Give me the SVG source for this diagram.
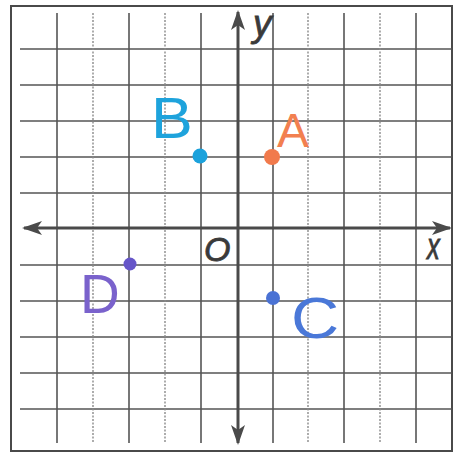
<svg xmlns="http://www.w3.org/2000/svg" width="464" height="453" viewBox="0 0 464 453">
<defs>
<style>
.grid{stroke:#555555;stroke-width:1.6;fill:none}
.dot{stroke:#8a8a8a;stroke-width:1.4;stroke-dasharray:2 1.5;fill:none}
.axis{stroke:#4a4a4a;stroke-width:3;fill:none}
.lbl{font-family:"Liberation Sans",Arial,sans-serif;font-style:italic;fill:#3a3a3a;stroke:#3a3a3a;stroke-width:0.8}
.hand{font-family:"Liberation Sans",Arial,sans-serif}
</style>
<marker id="ah" viewBox="0 0 20 14" refX="18" refY="7" markerWidth="20" markerHeight="14" markerUnits="userSpaceOnUse" orient="auto">
<path d="M0,0 L20,7 L0,14 L5,7 Z" fill="#4a4a4a"/>
</marker>
</defs>
<rect width="464" height="453" fill="#ffffff"/>
<g id="frame">
<rect x="11" y="6" width="441" height="445" fill="none" stroke="#4a4a4a" stroke-width="2"/>
</g>
<g id="grid">
<line class="grid" x1="20" y1="49" x2="452" y2="49"/>
<line class="grid" x1="20" y1="85" x2="452" y2="85"/>
<line class="grid" x1="20" y1="121" x2="452" y2="121"/>
<line class="grid" x1="20" y1="157" x2="452" y2="157"/>
<line class="grid" x1="20" y1="193" x2="452" y2="193"/>
<line class="grid" x1="20" y1="265" x2="452" y2="265"/>
<line class="grid" x1="20" y1="301" x2="452" y2="301"/>
<line class="grid" x1="20" y1="337" x2="452" y2="337"/>
<line class="grid" x1="20" y1="373" x2="452" y2="373"/>
<line class="grid" x1="20" y1="409" x2="452" y2="409"/>
<line class="grid" x1="57" y1="13" x2="57" y2="443"/>
<line class="dot" x1="93" y1="13" x2="93" y2="443"/>
<line class="grid" x1="129" y1="13" x2="129" y2="443"/>
<line class="dot" x1="165" y1="13" x2="165" y2="443"/>
<line class="grid" x1="201" y1="13" x2="201" y2="443"/>
<line class="grid" x1="273" y1="13" x2="273" y2="443"/>
<line class="dot" x1="308" y1="13" x2="308" y2="443"/>
<line class="grid" x1="344" y1="13" x2="344" y2="443"/>
<line class="dot" x1="380" y1="13" x2="380" y2="443"/>
<line class="grid" x1="416" y1="13" x2="416" y2="443"/>
</g>
<g id="connectors">
<line class="axis" x1="238" y1="228" x2="450" y2="228" marker-end="url(#ah)"/>
<line class="axis" x1="238" y1="228" x2="24" y2="228" marker-end="url(#ah)"/>
<line class="axis" x1="238" y1="228" x2="238" y2="12" marker-end="url(#ah)"/>
<line class="axis" x1="238" y1="228" x2="238" y2="443" marker-end="url(#ah)"/>
</g>
<g id="labels">
<text class="lbl" x="253" y="36" font-size="37">y</text>
<text class="lbl" x="0" y="0" font-size="34" transform="translate(427,259) scale(0.75,1.1)">x</text>
<text class="lbl" x="204" y="261" font-size="34">O</text>
</g>
<g id="pointA">
<circle cx="272" cy="157" r="8" fill="#f17a4c"/>
<text class="hand" x="277" y="147" font-size="48" fill="#f28050">A</text>
</g>
<g id="pointB">
<circle cx="200" cy="156" r="7.5" fill="#1ca2dc"/>
<text class="hand" x="0" y="0" font-size="58" fill="#1ea3dc" transform="translate(151,138) scale(1.08,1)">B</text>
</g>
<g id="pointC">
<circle cx="273" cy="298" r="7" fill="#4a72d4"/>
<text class="hand" x="0" y="0" font-size="58" fill="#4a78d8" transform="translate(291,338) scale(1.15,1)">C</text>
</g>
<g id="pointD">
<circle cx="130" cy="264" r="6.5" fill="#6656c8"/>
<text class="hand" x="80" y="313" font-size="55" fill="#7a62cc">D</text>
</g>
</svg>
